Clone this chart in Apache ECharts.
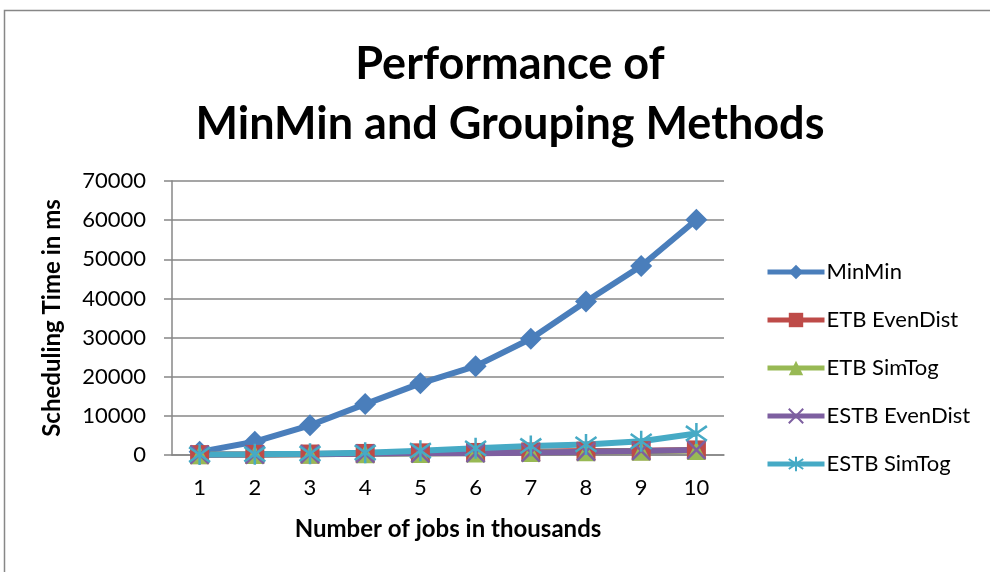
<!DOCTYPE html>
<html>
<head>
<meta charset="utf-8">
<script src="https://cdn.jsdelivr.net/npm/echarts@6/dist/echarts.min.js"></script>
<style>
  html, body { margin: 0; padding: 0; background: #fff; }
  #chart { width: 990px; height: 572px; }
</style>
</head>
<body>
<div id="chart"></div>
<script>
const jobs = ['1', '2', '3', '4', '5', '6', '7', '8', '9', '10']
const minMin = [800, 3400, 7600, 13000, 18300, 22700, 29700, 39200, 48300, 60100]
const etbEvenDist = [100, 150, 250, 400, 550, 650, 800, 1000, 1100, 1300]
const etbSimTog = [50, 100, 200, 300, 400, 500, 650, 800, 950, 1150]
const estbEvenDist = [80, 120, 220, 330, 430, 450, 600, 850, 1050, 1300]
const estbSimTog = [100, 200, 350, 600, 1100, 1700, 2300, 2700, 3500, 5500]
const yTicks = [0, 10000, 20000, 30000, 40000, 50000, 60000, 70000]

const font = 'Lato, "Open Sans", sans-serif'
const gray = '#878787'

// excel-like cross and star markers
const crossPath = 'path://M0,0L10,10M10,0L0,10'
const starPath = 'path://M5,0L5,10M0,1.5L10,8.5M0,8.5L10,1.5'

const chart = echarts.init(document.getElementById('chart'))

const mkSeries = (name, data, color, symbol, size, extra) => Object.assign({
  name: name,
  type: 'line',
  data: data,
  symbol: symbol,
  symbolSize: size,
  showAllSymbol: true,
  lineStyle: { color: color, width: 6 },
  itemStyle: { color: color, borderColor: color, borderWidth: 0 },
  emphasis: { disabled: true },
  animation: false
}, extra || {})

chart.setOption({
  backgroundColor: '#fff',
  textStyle: { fontFamily: font },
  graphic: [{
    type: 'rect',
    shape: { x: 4.5, y: 10.5, width: 1000, height: 700 },
    style: { fill: 'none', stroke: gray, lineWidth: 1.5 },
    silent: true
  }],
  title: {
    text: 'Performance of\nMinMin and Grouping Methods',
    left: 505,
    textAlign: 'center',
    top: 29,
    textStyle: { fontFamily: font, fontSize: 45, fontWeight: 'bold', color: '#000', lineHeight: 60 }
  },
  legend: {
    orient: 'vertical',
    left: 760,
    top: 256,
    itemWidth: 57,
    itemHeight: 18,
    itemGap: 26,
    lineStyle: { width: 5 },
    textStyle: { fontFamily: font, fontSize: 22, color: '#000', padding: [0, 0, 0, -3] },
    data: ['MinMin', 'ETB EvenDist', 'ETB SimTog', 'ESTB EvenDist', 'ESTB SimTog']
  },
  grid: { left: 172, right: 266, top: 181, bottom: 117 },
  xAxis: {
    type: 'category',
    data: jobs,
    boundaryGap: true,
    name: 'Number of jobs in thousands',
    nameLocation: 'middle',
    nameGap: 62,
    nameTextStyle: { fontFamily: font, fontSize: 24, fontWeight: 'bold', color: '#000' },
    axisLine: { lineStyle: { color: gray, width: 1.5 } },
    axisTick: { alignWithLabel: false, length: 7, lineStyle: { color: gray, width: 1.5 } },
    axisLabel: { fontFamily: font, fontSize: 22, color: '#000', margin: 22 }
  },
  yAxis: {
    type: 'value',
    min: 0,
    max: 70000,
    interval: 10000,
    name: 'Scheduling Time in ms',
    nameLocation: 'middle',
    nameGap: 108,
    nameRotate: 90,
    nameTextStyle: { fontFamily: font, fontSize: 24, fontWeight: 'bold', color: '#000' },
    axisLine: { show: true, lineStyle: { color: gray, width: 1.5 } },
    axisTick: { show: true, length: 8, lineStyle: { color: gray, width: 1.5 } },
    splitLine: { lineStyle: { color: gray, width: 1.5 } },
    axisLabel: {
      fontFamily: font, fontSize: 22, color: '#000', margin: 26,
      formatter: v => yTicks.indexOf(v) >= 0 ? String(v) : ''
    }
  },
  series: [
    mkSeries('MinMin', minMin, '#4a7ebb', 'diamond', 22),
    mkSeries('ETB EvenDist', etbEvenDist, '#be4b48', 'rect', 19),
    mkSeries('ETB SimTog', etbSimTog, '#98b954', 'triangle', 19),
    mkSeries('ESTB EvenDist', estbEvenDist, '#7d5fa0', crossPath, 18,
      { itemStyle: { color: 'none', borderColor: '#7d5fa0', borderWidth: 2.5 } }),
    mkSeries('ESTB SimTog', estbSimTog, '#46aac5', starPath, 21,
      { itemStyle: { color: 'none', borderColor: '#46aac5', borderWidth: 2.5 } })
  ]
})
</script>
</body>
</html>
